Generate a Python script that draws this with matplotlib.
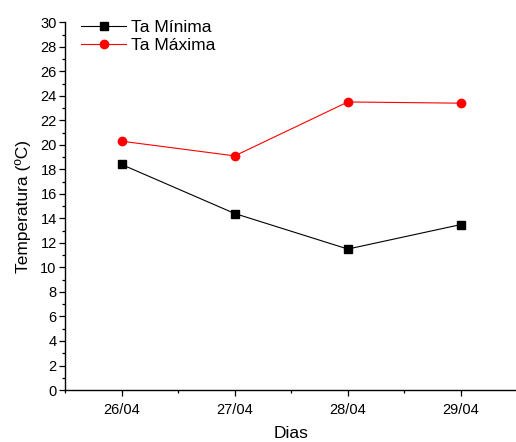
import matplotlib.pyplot as plt
from matplotlib.ticker import MultipleLocator

plt.rcParams['font.family'] = ['Liberation Sans', 'DejaVu Sans']

dias = ["26/04", "27/04", "28/04", "29/04"]
ta_minima = [18.4, 14.4, 11.5, 13.5]
ta_maxima = [20.3, 19.1, 23.5, 23.4]

x = list(range(1, len(dias) + 1))

fig = plt.figure(figsize=(5.16, 4.42), dpi=100)
ax = fig.add_axes([0.126, 0.1176, 0.877, 0.832])

ax.plot(x, ta_minima, color='black', lw=0.8, marker='s', ms=5.5, label='Ta Mínima')
ax.plot(x, ta_maxima, color='red', lw=0.8, marker='o', ms=6, label='Ta Máxima')

ax.set_xlim(0.5, 4.5)
ax.set_ylim(0, 30)
ax.set_xticks(x)
ax.set_xticklabels(dias)
ax.xaxis.set_minor_locator(MultipleLocator(0.5))
ax.yaxis.set_major_locator(MultipleLocator(2))
ax.yaxis.set_minor_locator(MultipleLocator(1))

for s in ['top', 'right']:
    ax.spines[s].set_visible(False)
for s in ['left', 'bottom']:
    ax.spines[s].set_linewidth(1.0)

ax.tick_params(which='major', direction='out', length=4, width=0.9, labelsize=10.5, pad=2)
ax.tick_params(which='minor', direction='out', length=2.5, width=0.9)
ax.tick_params(axis='x', pad=5)

ax.set_xlabel('Dias', fontsize=12.5, labelpad=7)
ax.set_ylabel('Temperatura (ºC)', fontsize=12.5, labelpad=7)

ax.legend(loc='upper left', bbox_to_anchor=(0.02, 1.025), frameon=False, fontsize=12.5,
          handlelength=2.6, handletextpad=0.3, labelspacing=0.15, borderaxespad=0)

fig.savefig('out.png', dpi=100)
